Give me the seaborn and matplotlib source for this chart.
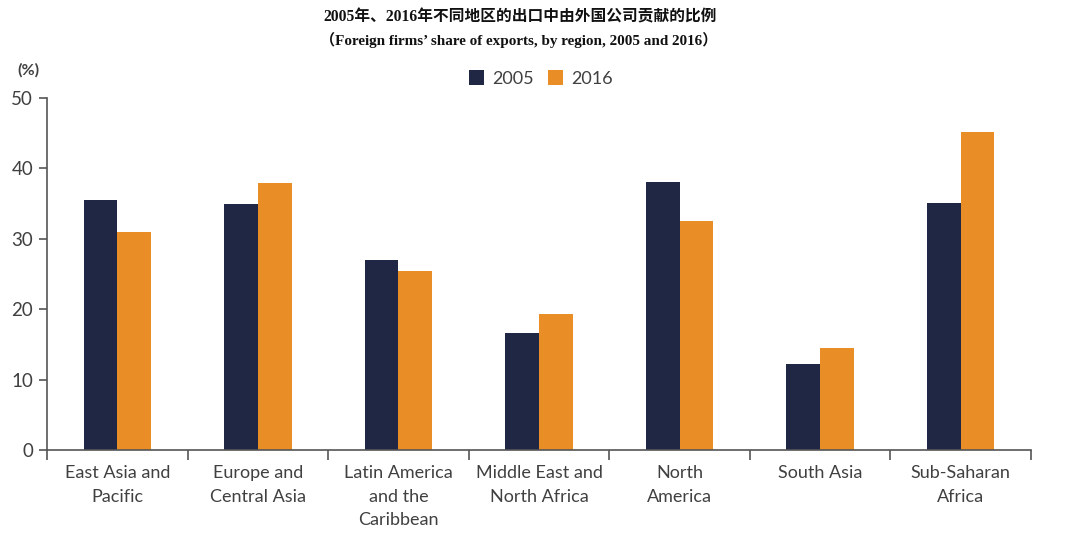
import matplotlib
matplotlib.use("Agg")
import matplotlib.pyplot as plt
from matplotlib.ticker import FixedLocator
import seaborn as sns
import pandas as pd

regions = [
    "East Asia and\nPacific",
    "Europe and\nCentral Asia",
    "Latin America\nand the\nCaribbean",
    "Middle East and\nNorth Africa",
    "North\nAmerica",
    "South Asia",
    "Sub-Saharan\nAfrica",
]
share_2005 = [35.5, 34.9, 27.0, 16.6, 38.1, 12.2, 35.1]
share_2016 = [31.0, 37.9, 25.4, 19.3, 32.5, 14.5, 45.2]
years = ["2005", "2016"]
y_ticks = [0, 10, 20, 30, 40, 50]

df = pd.DataFrame({
    "region": regions * 2,
    "year": [years[0]] * len(regions) + [years[1]] * len(regions),
    "share": share_2005 + share_2016,
})

sns.set_theme(style="white")
plt.rcParams["font.family"] = ["Lato", "DejaVu Sans"]

fig = plt.figure(figsize=(10.65, 5.35), dpi=100)
ax = fig.add_axes([0.0441, 0.159, 0.924, 0.658])

palette = {"2005": "#1f2744", "2016": "#e98d26"}
sns.barplot(data=df, x="region", y="share", hue="year", palette=palette,
            order=regions, hue_order=years, width=0.48, saturation=1,
            linewidth=0, ax=ax)

ax.set_xlim(-0.5, len(regions) - 0.5)
ax.set_ylim(0, 50)
ax.set_yticks(y_ticks)
ax.set_xlabel("")
ax.set_ylabel("")

text_color = "#404040"
spine_color = "#555555"
for side in ["top", "right"]:
    ax.spines[side].set_visible(False)
for side in ["left", "bottom"]:
    ax.spines[side].set_color(spine_color)
    ax.spines[side].set_linewidth(1.2)

ax.xaxis.set_minor_locator(FixedLocator([i - 0.5 for i in range(len(regions) + 1)]))
ax.tick_params(axis="x", which="major", length=0, pad=11, labelsize=13, colors=text_color)
ax.tick_params(axis="x", which="minor", bottom=True, length=7, width=1.2, color=spine_color)
ax.tick_params(axis="y", left=True, length=6, width=1.2, color=spine_color,
               labelsize=13.5, labelcolor=text_color, pad=4)
for lbl in ax.get_xticklabels():
    lbl.set_linespacing(1.58)

ax.legend(title=None, loc="upper center", bbox_to_anchor=(0.502, 1.125), ncol=2,
          frameon=False, handlelength=0.85, handleheight=0.85, handletextpad=0.45,
          columnspacing=0.75, fontsize=13, labelcolor=text_color)

fig.text(0.016, 0.869, "(%)", fontsize=11.5, fontweight="bold", color=text_color,
         ha="left", va="center")

title_font = ["Liberation Serif", "Noto Sans CJK SC"]
fig.text(0.488, 0.967, "2005年、2016年不同地区的出口中由外国公司贡献的比例",
         ha="center", va="center", fontsize=11.3, fontweight="bold",
         family=title_font, color="#111111")
fig.text(0.487, 0.925, "（Foreign firms’ share of exports, by region, 2005 and 2016）",
         ha="center", va="center", fontsize=10.9, fontweight="bold",
         family=title_font, color="#111111")

fig.savefig("out.png", dpi=100, facecolor="white")
